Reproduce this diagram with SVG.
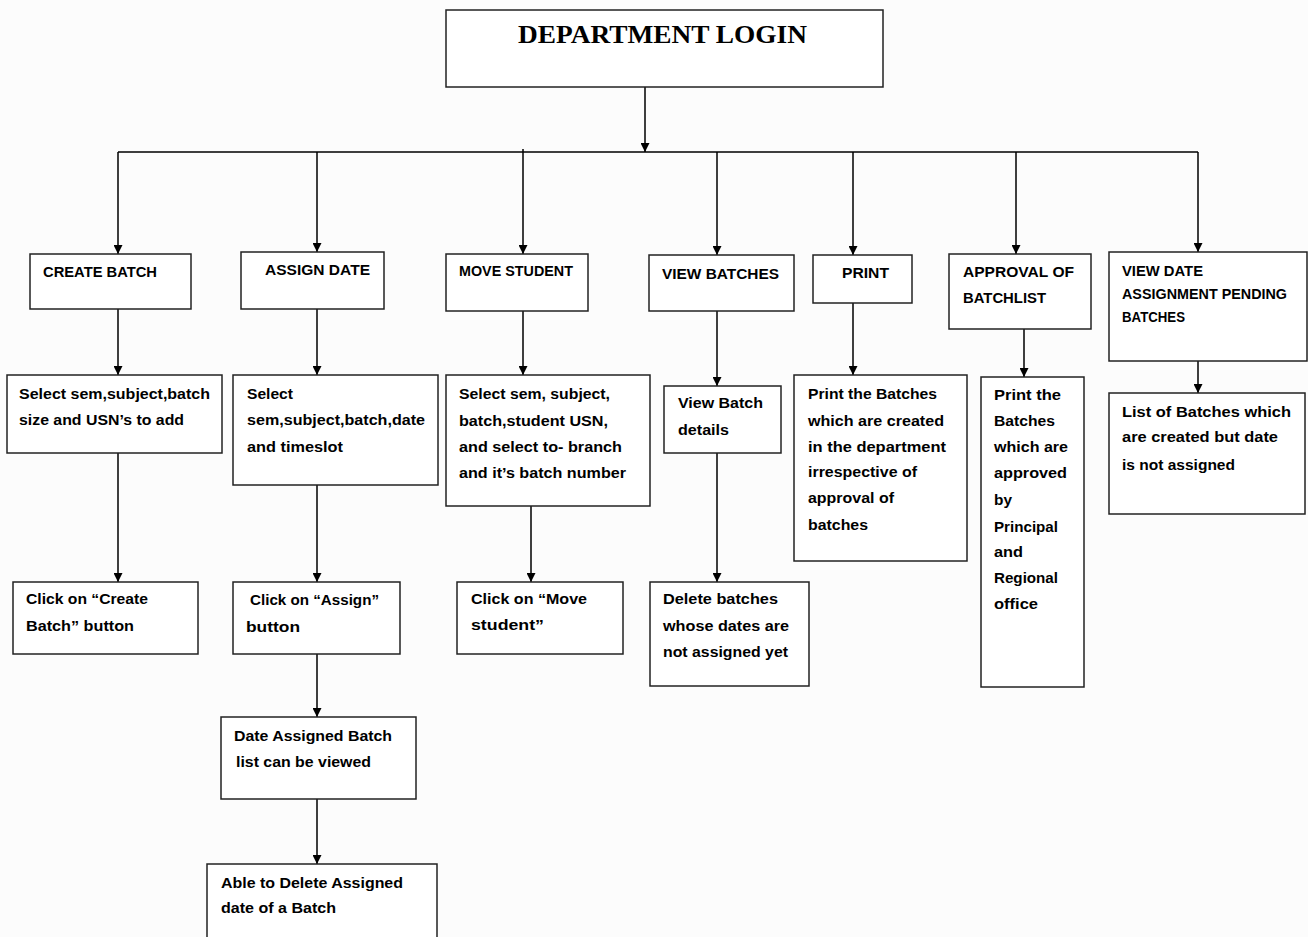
<svg xmlns="http://www.w3.org/2000/svg" width="1308" height="937" viewBox="0 0 1308 937">
<defs>
<marker id="ah" viewBox="0 0 10 10" refX="10" refY="5" markerWidth="11" markerHeight="9" markerUnits="userSpaceOnUse" orient="auto">
<path d="M0,0 L10,5 L0,10 z" fill="#000"/>
</marker>
<style>
.bx{fill:#fff;stroke:#222;stroke-width:1.5}
.t{font-family:"Liberation Sans",Arial,sans-serif;font-weight:bold;font-size:15px;fill:#000}
.h{font-family:"Liberation Sans",Arial,sans-serif;font-weight:bold;font-size:14px;fill:#000}
.ttl{font-family:"Liberation Serif","Times New Roman",serif;font-weight:bold;font-size:25px;fill:#000}
.c{fill:none;stroke:#000;stroke-width:1.5}
.a{marker-end:url(#ah)}
</style>
</defs>
<rect width="1308" height="937" fill="#fcfcfc"/>
<g id="connectors">
<path class="c a" d="M645,87 V152"/>
<path class="c" d="M118,152 H1198"/>
<path class="c a" d="M118,152 V254"/>
<path class="c a" d="M317,152 V252"/>
<path class="c a" d="M523,149 V254"/>
<path class="c a" d="M717,152 V255"/>
<path class="c a" d="M853,152 V255"/>
<path class="c a" d="M1016,152 V254"/>
<path class="c a" d="M1198,152 V252"/>
<path class="c a" d="M118,309 V375"/>
<path class="c a" d="M118,453 V582"/>
<path class="c a" d="M317,309 V375"/>
<path class="c a" d="M317,485 V582"/>
<path class="c a" d="M317,654 V717"/>
<path class="c a" d="M317,799 V864"/>
<path class="c a" d="M523,311 V375"/>
<path class="c a" d="M531,506 V582"/>
<path class="c a" d="M717,311 V386"/>
<path class="c a" d="M717,453 V582"/>
<path class="c a" d="M853,303 V375"/>
<path class="c a" d="M1024,329 V377"/>
<path class="c a" d="M1198,361 V393"/>
</g>
<g id="dept-login">
<rect class="bx" x="446" y="10" width="437" height="77"/>
<text class="ttl" x="518" y="43" textLength="289" lengthAdjust="spacingAndGlyphs">DEPARTMENT LOGIN</text>
</g>
<g id="create-batch">
<rect class="bx" x="30" y="254" width="161" height="55"/>
<text class="h" x="43" y="277" textLength="114" lengthAdjust="spacingAndGlyphs">CREATE BATCH</text>
</g>
<g id="assign-date">
<rect class="bx" x="241" y="252" width="143" height="57"/>
<text class="h" x="265" y="275" textLength="105" lengthAdjust="spacingAndGlyphs">ASSIGN DATE</text>
</g>
<g id="move-student">
<rect class="bx" x="446" y="254" width="142" height="57"/>
<text class="h" x="459" y="276" textLength="114" lengthAdjust="spacingAndGlyphs">MOVE STUDENT</text>
</g>
<g id="view-batches">
<rect class="bx" x="649" y="255" width="145" height="56"/>
<text class="h" x="662" y="279" textLength="117" lengthAdjust="spacingAndGlyphs">VIEW BATCHES</text>
</g>
<g id="print">
<rect class="bx" x="813" y="255" width="99" height="48"/>
<text class="h" x="842" y="278" textLength="47" lengthAdjust="spacingAndGlyphs">PRINT</text>
</g>
<g id="approval">
<rect class="bx" x="949" y="254" width="142" height="75"/>
<text class="h" x="963" y="277" textLength="111" lengthAdjust="spacingAndGlyphs">APPROVAL OF</text>
<text class="h" x="963" y="303" textLength="83" lengthAdjust="spacingAndGlyphs">BATCHLIST</text>
</g>
<g id="view-date-pending">
<rect class="bx" x="1109" y="252" width="198" height="109"/>
<text class="h" x="1122" y="276" textLength="81" lengthAdjust="spacingAndGlyphs">VIEW DATE</text>
<text class="h" x="1122" y="299" textLength="165" lengthAdjust="spacingAndGlyphs">ASSIGNMENT PENDING</text>
<text class="h" x="1122" y="322" textLength="63" lengthAdjust="spacingAndGlyphs">BATCHES</text>
</g>
<g id="cb-select">
<rect class="bx" x="7" y="375" width="215" height="78"/>
<text class="t" x="19" y="399" textLength="191" lengthAdjust="spacingAndGlyphs">Select sem,subject,batch</text>
<text class="t" x="19" y="425" textLength="165" lengthAdjust="spacingAndGlyphs">size and USN’s to add</text>
</g>
<g id="ad-select">
<rect class="bx" x="233" y="375" width="205" height="110"/>
<text class="t" x="247" y="399" textLength="46" lengthAdjust="spacingAndGlyphs">Select</text>
<text class="t" x="247" y="425" textLength="178" lengthAdjust="spacingAndGlyphs">sem,subject,batch,date</text>
<text class="t" x="247" y="452" textLength="96" lengthAdjust="spacingAndGlyphs">and timeslot</text>
</g>
<g id="ms-select">
<rect class="bx" x="446" y="375" width="204" height="131"/>
<text class="t" x="459" y="399" textLength="151" lengthAdjust="spacingAndGlyphs">Select sem, subject,</text>
<text class="t" x="459" y="426" textLength="149" lengthAdjust="spacingAndGlyphs">batch,student USN,</text>
<text class="t" x="459" y="452" textLength="163" lengthAdjust="spacingAndGlyphs">and select to- branch</text>
<text class="t" x="459" y="478" textLength="167" lengthAdjust="spacingAndGlyphs">and it’s batch number</text>
</g>
<g id="vb-details">
<rect class="bx" x="664" y="386" width="117" height="67"/>
<text class="t" x="678" y="408" textLength="85" lengthAdjust="spacingAndGlyphs">View Batch</text>
<text class="t" x="678" y="435" textLength="51" lengthAdjust="spacingAndGlyphs">details</text>
</g>
<g id="pr-batches">
<rect class="bx" x="794" y="375" width="173" height="186"/>
<text class="t" x="808" y="399" textLength="129" lengthAdjust="spacingAndGlyphs">Print the Batches</text>
<text class="t" x="808" y="426" textLength="136" lengthAdjust="spacingAndGlyphs">which are created</text>
<text class="t" x="808" y="452" textLength="138" lengthAdjust="spacingAndGlyphs">in the department</text>
<text class="t" x="808" y="477" textLength="109" lengthAdjust="spacingAndGlyphs">irrespective of</text>
<text class="t" x="808" y="503" textLength="86" lengthAdjust="spacingAndGlyphs">approval of</text>
<text class="t" x="808" y="530" textLength="60" lengthAdjust="spacingAndGlyphs">batches</text>
</g>
<g id="ap-batches">
<rect class="bx" x="981" y="377" width="103" height="310"/>
<text class="t" x="994" y="400" textLength="67" lengthAdjust="spacingAndGlyphs">Print the</text>
<text class="t" x="994" y="426" textLength="61" lengthAdjust="spacingAndGlyphs">Batches</text>
<text class="t" x="994" y="452" textLength="74" lengthAdjust="spacingAndGlyphs">which are</text>
<text class="t" x="994" y="478" textLength="73" lengthAdjust="spacingAndGlyphs">approved</text>
<text class="t" x="994" y="505" textLength="18" lengthAdjust="spacingAndGlyphs">by</text>
<text class="t" x="994" y="532" textLength="64" lengthAdjust="spacingAndGlyphs">Principal</text>
<text class="t" x="994" y="557" textLength="29" lengthAdjust="spacingAndGlyphs">and</text>
<text class="t" x="994" y="583" textLength="64" lengthAdjust="spacingAndGlyphs">Regional</text>
<text class="t" x="994" y="609" textLength="44" lengthAdjust="spacingAndGlyphs">office</text>
</g>
<g id="vd-list">
<rect class="bx" x="1109" y="393" width="196" height="121"/>
<text class="t" x="1122" y="417" textLength="169" lengthAdjust="spacingAndGlyphs">List of Batches which</text>
<text class="t" x="1122" y="442" textLength="156" lengthAdjust="spacingAndGlyphs">are created but date</text>
<text class="t" x="1122" y="470" textLength="113" lengthAdjust="spacingAndGlyphs">is not assigned</text>
</g>
<g id="cb-click">
<rect class="bx" x="13" y="582" width="185" height="72"/>
<text class="t" x="26" y="604" textLength="122" lengthAdjust="spacingAndGlyphs">Click on “Create</text>
<text class="t" x="26" y="631" textLength="108" lengthAdjust="spacingAndGlyphs">Batch” button</text>
</g>
<g id="ad-click">
<rect class="bx" x="233" y="582" width="167" height="72"/>
<text class="t" x="250" y="605" textLength="129" lengthAdjust="spacingAndGlyphs">Click on “Assign”</text>
<text class="t" x="246" y="632" textLength="54" lengthAdjust="spacingAndGlyphs">button</text>
</g>
<g id="ms-click">
<rect class="bx" x="457" y="582" width="166" height="72"/>
<text class="t" x="471" y="604" textLength="116" lengthAdjust="spacingAndGlyphs">Click on “Move</text>
<text class="t" x="471" y="630" textLength="73" lengthAdjust="spacingAndGlyphs">student”</text>
</g>
<g id="vb-delete">
<rect class="bx" x="650" y="582" width="159" height="104"/>
<text class="t" x="663" y="604" textLength="115" lengthAdjust="spacingAndGlyphs">Delete batches</text>
<text class="t" x="663" y="631" textLength="126" lengthAdjust="spacingAndGlyphs">whose dates are</text>
<text class="t" x="663" y="657" textLength="125" lengthAdjust="spacingAndGlyphs">not assigned yet</text>
</g>
<g id="ad-viewed">
<rect class="bx" x="221" y="717" width="195" height="82"/>
<text class="t" x="234" y="741" textLength="158" lengthAdjust="spacingAndGlyphs">Date Assigned Batch</text>
<text class="t" x="236" y="767" textLength="135" lengthAdjust="spacingAndGlyphs">list can be viewed</text>
</g>
<g id="ad-delete">
<rect class="bx" x="207" y="864" width="230" height="90"/>
<text class="t" x="221" y="888" textLength="182" lengthAdjust="spacingAndGlyphs">Able to Delete Assigned</text>
<text class="t" x="221" y="913" textLength="115" lengthAdjust="spacingAndGlyphs">date of a Batch</text>
</g>
</svg>
